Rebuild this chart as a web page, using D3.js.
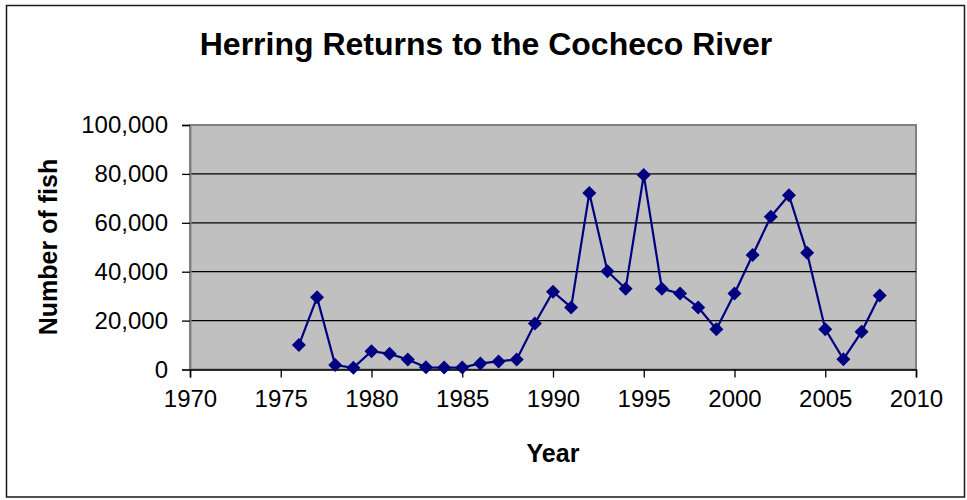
<!DOCTYPE html>
<html>
<head>
<meta charset="utf-8">
<script src="https://cdn.jsdelivr.net/npm/d3@7"></script>
<style>
  html, body { margin: 0; padding: 0; background: #fff; }
  svg { display: block; font-family: "Liberation Sans", Arial, sans-serif; }
</style>
</head>
<body>
<svg id="chart" width="967" height="500"></svg>
<script>
const years = [1976,1977,1978,1979,1980,1981,1982,1983,1984,1985,1986,1987,1988,1989,1990,1991,1992,1993,1994,1995,1996,1997,1998,1999,2000,2001,2002,2003,2004,2005,2006,2007,2008];
const fish = [10000,29500,1800,700,7500,6400,4100,900,800,800,2500,3300,4100,18800,31800,25400,72200,40200,33000,79500,33000,31100,25400,16500,31100,46800,62500,71300,47700,16500,4200,15400,30300];
const xTicks = [1970,1975,1980,1985,1990,1995,2000,2005,2010];
const yTicks = [0,20000,40000,60000,80000,100000];
const titleText = "Herring Returns to the Cocheco River";
const xLabel = "Year";
const yLabel = "Number of fish";

const svg = d3.select("#chart");
const plot = {left: 190, top: 125, right: 916, bottom: 369.5};

const x = d3.scaleLinear().domain([1970, 2010]).range([plot.left, plot.right]);
const y = d3.scaleLinear().domain([0, 100000]).range([plot.bottom, plot.top]);

// outer chart border
svg.append("rect")
  .attr("x", 6.5).attr("y", 5.5).attr("width", 958).attr("height", 491.5)
  .attr("fill", "#fff").attr("stroke", "#1a1a1a").attr("stroke-width", 1.5);

// plot area background
svg.append("rect")
  .attr("x", plot.left).attr("y", plot.top)
  .attr("width", plot.right - plot.left).attr("height", plot.bottom - plot.top)
  .attr("fill", "#c0c0c0").attr("stroke", "#808080").attr("stroke-width", 2);

// gridlines
svg.append("g").selectAll("line")
  .data(yTicks.filter(d => d > 0 && d < 100000))
  .join("line")
  .attr("x1", plot.left).attr("x2", plot.right)
  .attr("y1", d => y(d)).attr("y2", d => y(d))
  .attr("stroke", "#000").attr("stroke-width", 1.3);

// y axis
const yAxis = d3.axisLeft(y).tickValues(yTicks).tickSize(8).tickPadding(14)
  .tickFormat(d3.format(","));
const gy = svg.append("g").attr("transform", `translate(${plot.left},0)`).call(yAxis);
gy.select(".domain").attr("stroke", "#808080").attr("stroke-width", 2);
gy.selectAll(".tick line").attr("stroke", "#000").attr("stroke-width", 1.3);
gy.selectAll(".tick text").attr("font-size", 24).attr("fill", "#000")
  .attr("font-family", "'Liberation Sans', Arial, sans-serif")
  .attr("dy", "0.33em");

// x axis
const xAxis = d3.axisBottom(x).tickValues(xTicks).tickSize(8).tickPadding(12)
  .tickFormat(d3.format("d"));
const gx = svg.append("g").attr("transform", `translate(0,${plot.bottom})`).call(xAxis);
gx.select(".domain").attr("stroke", "#000").attr("stroke-width", 1.5);
gx.selectAll(".tick line").attr("stroke", "#000").attr("stroke-width", 1.3);
gx.selectAll(".tick text").attr("font-size", 24).attr("fill", "#000")
  .attr("font-family", "'Liberation Sans', Arial, sans-serif");

// line
const pts = years.map((yr, i) => [yr, fish[i]]);
svg.append("path")
  .datum(pts)
  .attr("fill", "none").attr("stroke", "#000080").attr("stroke-width", 2.2)
  .attr("d", d3.line().x(d => x(d[0])).y(d => y(d[1])));

// diamond markers
const r = 7;
svg.append("g").selectAll("path")
  .data(pts)
  .join("path")
  .attr("transform", d => `translate(${x(d[0])},${y(d[1])})`)
  .attr("d", `M0,${-r}L${r},0L0,${r}L${-r},0Z`)
  .attr("fill", "#000080");

// title
svg.append("text")
  .attr("x", 486).attr("y", 55).attr("text-anchor", "middle")
  .attr("font-size", 32).attr("font-weight", "bold").attr("fill", "#000")
  .text(titleText);

// x label
svg.append("text")
  .attr("x", 553).attr("y", 462).attr("text-anchor", "middle")
  .attr("font-size", 25).attr("font-weight", "bold").attr("fill", "#000")
  .text(xLabel);

// y label
svg.append("text")
  .attr("transform", "translate(57,247) rotate(-90)")
  .attr("text-anchor", "middle")
  .attr("font-size", 25).attr("font-weight", "bold").attr("fill", "#000")
  .text(yLabel);
</script>
</body>
</html>
